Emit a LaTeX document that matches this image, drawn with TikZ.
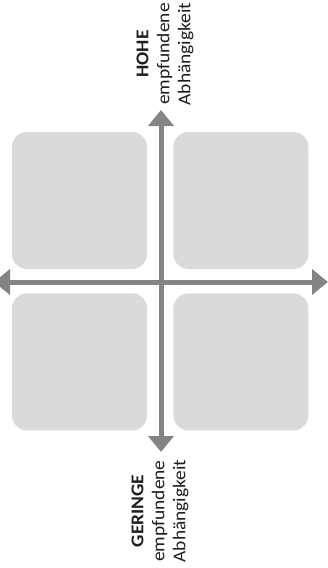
\documentclass[tikz,border=0pt]{standalone}
\usepackage{fontspec}
\setmainfont{Carlito}
\newfontfamily\labelfont[FakeStretch=1.08]{Carlito}
\usetikzlibrary{arrows.meta,positioning}
\definecolor{FieldGray}{RGB}{218,218,218}
\definecolor{AxisGray}{RGB}{132,132,132}
\definecolor{LabelGray}{RGB}{30,30,30}
\tikzset{
  field/.style={fill=FieldGray,rounded corners=15pt,minimum width=135pt,
    minimum height=137pt,inner sep=0pt},
  axis/.style={{Triangle[length=16pt,width=25pt]}-{Triangle[length=16pt,width=25pt]},
    line width=5pt,AxisGray},
  axislabel/.style={rotate=90,align=center,text=LabelGray,inner sep=0pt,
    font=\labelfont\fontsize{18}{21}\selectfont}
}

\begin{document}
\begin{tikzpicture}[x=1pt,y=-1pt,node distance=24pt and 26pt]
      \useasboundingbox (0,0) rectangle (328,568);
      \node[field] (obenlinks) at (79.5,200.5) {};
      \node[field,right=of obenlinks] (obenrechts) {};
      \node[field,below=of obenlinks] (untenlinks) {};
      \node[field,below=of obenrechts] (untenrechts) {};
      \coordinate (oben) at (161,110);
      \coordinate (unten) at (161,452);
      \coordinate (links) at (-6,282);
      \coordinate (rechts) at (328,282);
      \draw[axis] (links) -- (rechts);
      \draw[axis] (unten) -- (oben);
      \node[axislabel] (hoch) at (165,54) {\textbf{HOHE}\\empfundene\\Abhängigkeit};
      \node[axislabel] (gering) at (160,511) {\textbf{GERINGE}\\empfundene\\Abhängigkeit};
    \end{tikzpicture}
\end{document}
